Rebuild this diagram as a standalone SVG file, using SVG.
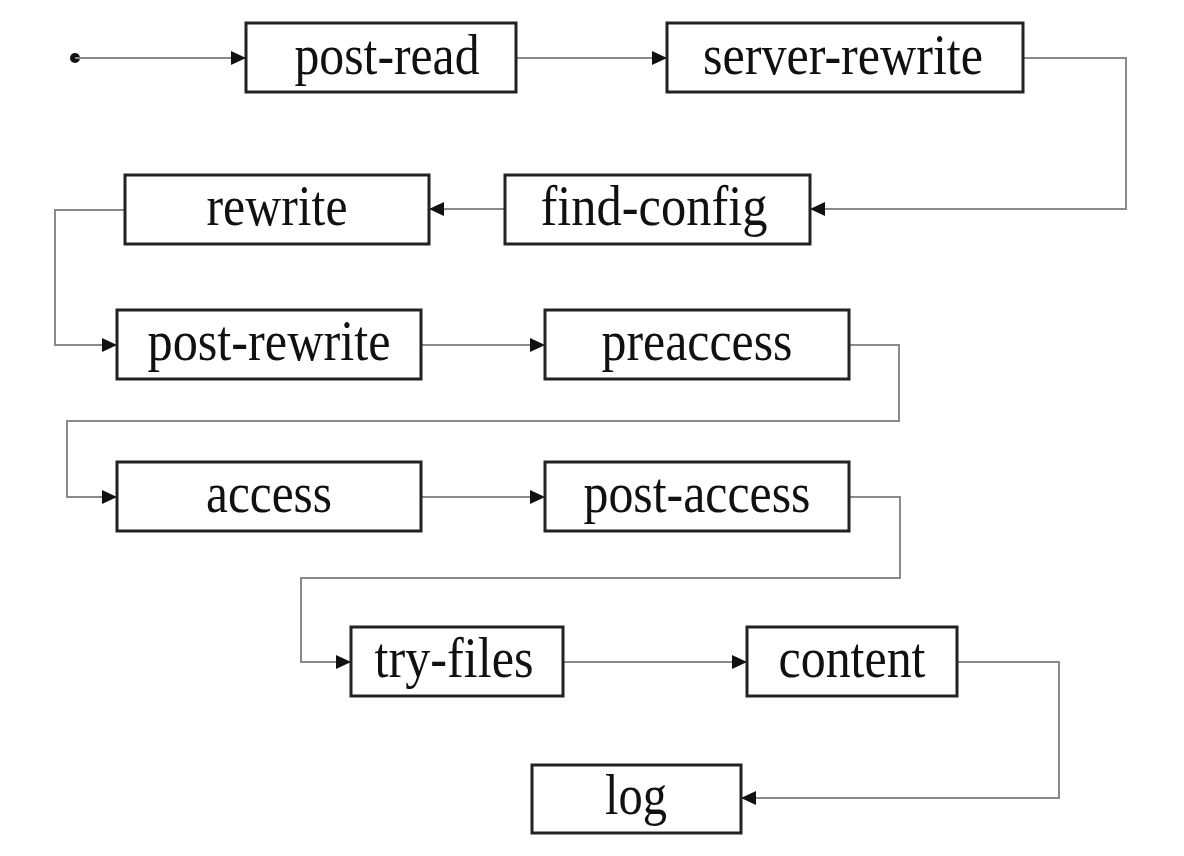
<svg xmlns="http://www.w3.org/2000/svg" width="1184" height="856" viewBox="0 0 1184 856">
<style>
.box{fill:#fff;stroke:#222;stroke-width:3}
.lbl{font-family:"Liberation Serif","Times New Roman",serif;font-size:58px;fill:#111;text-anchor:middle}
.c{fill:none;stroke:#8a8a8a;stroke-width:2;marker-end:url(#ah)}
</style>
<defs>
<marker id="ah" markerUnits="userSpaceOnUse" markerWidth="16" markerHeight="16" refX="15" refY="8" orient="auto">
<path d="M0,1 L15,8 L0,15 z" fill="#111"/>
</marker>
</defs>
<rect width="1184" height="856" fill="#fff"/>
<g id="connectors">
<circle cx="75" cy="58" r="5" fill="#111"/>
<path class="c" d="M75,58 H246"/>
<path class="c" d="M516,58 H667"/>
<path class="c" d="M1023,58 H1126 V209 H810"/>
<path class="c" d="M505,209 H429"/>
<path class="c" d="M125,210 H55 V345 H117"/>
<path class="c" d="M421,345 H545"/>
<path class="c" d="M849,345 H899 V421 H67 V497 H117"/>
<path class="c" d="M421,497 H545"/>
<path class="c" d="M849,497 H900 V578 H301 V662 H351"/>
<path class="c" d="M563,662 H747"/>
<path class="c" d="M957,662 H1059 V798 H741"/>
</g>
<g id="post-read"><rect class="box" x="246" y="23" width="270" height="69"/><text class="lbl" x="387" y="74" textLength="185" lengthAdjust="spacingAndGlyphs">post-read</text></g>
<g id="server-rewrite"><rect class="box" x="667" y="23" width="356" height="69"/><text class="lbl" x="843" y="74" textLength="280" lengthAdjust="spacingAndGlyphs">server-rewrite</text></g>
<g id="find-config"><rect class="box" x="505" y="175" width="305" height="69"/><text class="lbl" x="654" y="225" textLength="227" lengthAdjust="spacingAndGlyphs">find-config</text></g>
<g id="rewrite"><rect class="box" x="125" y="175" width="304" height="69"/><text class="lbl" x="277" y="225" textLength="141" lengthAdjust="spacingAndGlyphs">rewrite</text></g>
<g id="post-rewrite"><rect class="box" x="117" y="310" width="304" height="69"/><text class="lbl" x="269" y="360" textLength="243" lengthAdjust="spacingAndGlyphs">post-rewrite</text></g>
<g id="preaccess"><rect class="box" x="545" y="310" width="304" height="69"/><text class="lbl" x="697" y="360" textLength="191" lengthAdjust="spacingAndGlyphs">preaccess</text></g>
<g id="access"><rect class="box" x="117" y="462" width="304" height="69"/><text class="lbl" x="269" y="512" textLength="126" lengthAdjust="spacingAndGlyphs">access</text></g>
<g id="post-access"><rect class="box" x="545" y="462" width="304" height="69"/><text class="lbl" x="697" y="512" textLength="227" lengthAdjust="spacingAndGlyphs">post-access</text></g>
<g id="try-files"><rect class="box" x="351" y="627" width="212" height="69"/><text class="lbl" x="454" y="677" textLength="159" lengthAdjust="spacingAndGlyphs">try-files</text></g>
<g id="content"><rect class="box" x="747" y="627" width="210" height="69"/><text class="lbl" x="852" y="677" textLength="147" lengthAdjust="spacingAndGlyphs">content</text></g>
<g id="log"><rect class="box" x="532" y="765" width="209" height="68"/><text class="lbl" x="636" y="814" textLength="62" lengthAdjust="spacingAndGlyphs">log</text></g>
</svg>
